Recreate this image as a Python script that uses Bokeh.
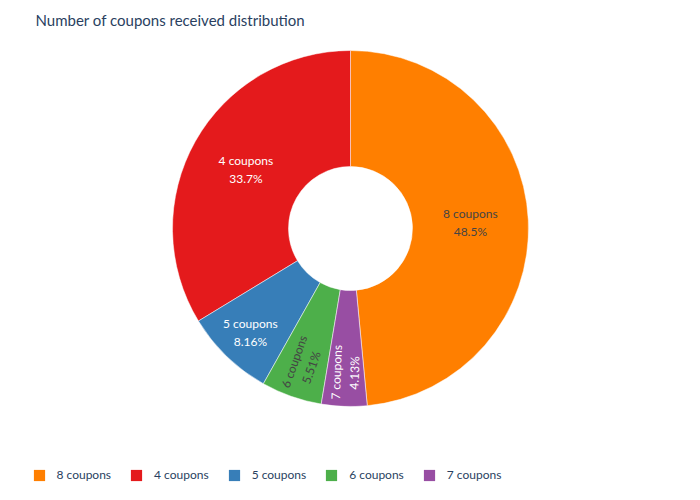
import numpy as np
from bokeh.plotting import figure
from bokeh.models import ColumnDataSource, Label, Legend, LegendItem
from bokeh.core.properties import value
from bokeh.embed import file_html
from bokeh.resources import INLINE

title = "Number of coupons received distribution"
labels = ["8 coupons", "4 coupons", "5 coupons", "6 coupons", "7 coupons"]
percents = [48.5, 33.7, 8.16, 5.51, 4.13]
pct_text = ["48.5%", "33.7%", "8.16%", "5.51%", "4.13%"]
colors = ["#ff7f00", "#e41a1c", "#377eb8", "#4daf4a", "#984ea3"]
text_colors = ["#444444", "#ffffff", "#ffffff", "#444444", "#ffffff"]

FONT = "Lato"
W, H = 700, 500
R_OUT, R_IN = 178, 62

vals = np.array(percents, dtype=float)
frac = vals / vals.sum()
start0 = np.pi / 2 - 2 * np.pi * frac[0]
cum = np.concatenate([[0], np.cumsum(frac)[:-1]])
starts = start0 + 2 * np.pi * cum
ends = starts + 2 * np.pi * frac
mids = (starts + ends) / 2

r_lab = np.where(frac > 0.2, (R_OUT + R_IN) / 2, R_OUT * 0.81)
lx = r_lab * np.cos(mids)
ly = r_lab * np.sin(mids)
rot = np.where(frac > 0.07, 0.0, mids + np.pi)
rot = np.where(rot > np.pi, rot - 2 * np.pi, rot)
texts = [f"{l}\n{p}" for l, p in zip(labels, pct_text)]

src = ColumnDataSource(dict(start=starts, end=ends, color=colors, label=labels,
                            lx=lx, ly=ly, rot=rot, text=texts, tcolor=text_colors))

p = figure(width=W, height=H, x_range=(-350, 350), y_range=(-272, 228),
           output_backend="svg", toolbar_location=None, min_border=0,
           outline_line_color=None, background_fill_color="white")
p.axis.visible = False
p.grid.visible = False

p.annular_wedge(x=0, y=0, inner_radius=R_IN, outer_radius=R_OUT,
                start_angle="start", end_angle="end", fill_color="color",
                line_color="white", line_width=0.5, source=src)

p.text(x="lx", y="ly", text="text", angle="rot", text_color="tcolor",
       text_font=value(FONT), text_font_size="12px", text_align="center",
       text_baseline="middle", text_line_height=1.2, source=src)

p.add_layout(Label(x=35, y=481, x_units="screen", y_units="screen", text=title,
                   text_font=FONT, text_font_size="15px", text_color="#2a3f5f",
                   text_baseline="middle"))

leg_src = ColumnDataSource(dict(x=[np.nan] * len(labels), y=[np.nan] * len(labels),
                                color=colors))
swatch = p.rect(x="x", y="y", width=1, height=1, fill_color="color",
                line_color=None, source=leg_src)

items = [LegendItem(label=l, renderers=[swatch], index=i) for i, l in enumerate(labels)]
legend = Legend(items=items, orientation="horizontal", location=(31.5, 18),
                glyph_width=14, glyph_height=14, label_standoff=11, spacing=18,
                label_text_font=FONT, label_text_font_size="12px",
                label_text_color="#2a3f5f", label_height=14,
                border_line_color=None, background_fill_alpha=0,
                padding=0, margin=0, label_text_baseline="middle")
p.add_layout(legend, "center")

open("out.html", "w").write(file_html(p, INLINE))
